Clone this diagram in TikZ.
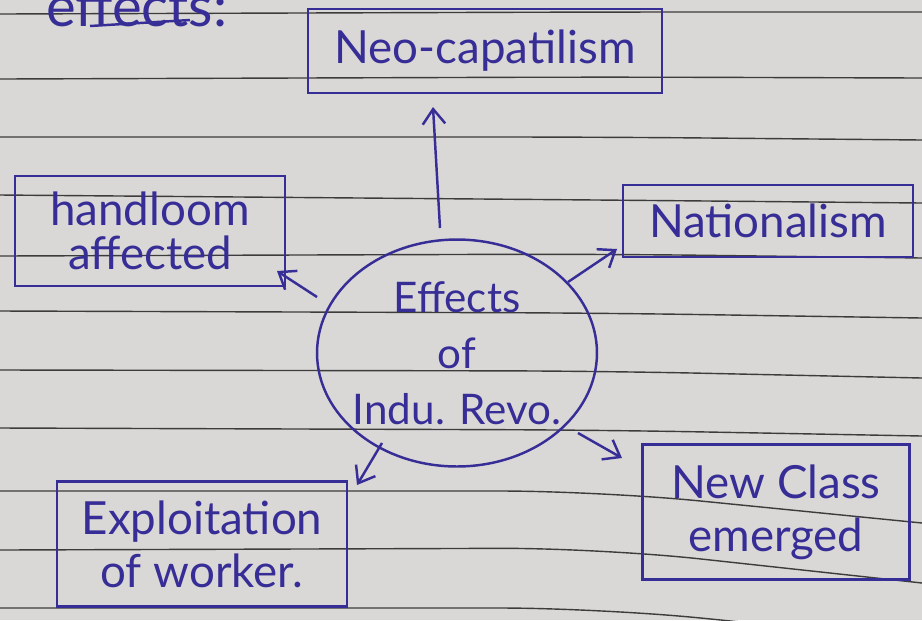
\documentclass[tikz,border=0pt]{standalone}
\usepackage{fontspec}
\setmainfont{Lato}
\usetikzlibrary{arrows.meta,shapes.geometric,calc}
\definecolor{ink}{RGB}{55,45,150}
\definecolor{paper}{RGB}{218,216,214}
\definecolor{rule}{RGB}{60,60,60}

\begin{document}
\begin{tikzpicture}[x=0.02cm, y=-0.02cm, >={Straight Barb[length=3mm,width=4.5mm]},
  box/.style={draw=ink, line width=1.4pt, text=ink, align=center, inner sep=0pt, font=\fontsize{26}{30}\selectfont},
  bubble/.style={draw=ink, ellipse, line width=1.4pt, text=ink, align=center, inner xsep=-0.3cm, inner ysep=-0.1cm, minimum width=5.6cm, minimum height=4.54cm, font=\fontsize{24}{32}\selectfont},
  link/.style={->, draw=ink, line width=1.4pt}]
\useasboundingbox (0,0) rectangle (922,620);
\fill[paper] (0,0) rectangle (922,620);
% ruled lines of the page
\foreach \a/\b/\c in {14/12/12, 79/77/78, 137/137/140, 195/200/203, 256/254/258, 311/313/318, 370/371/378, 428/430/436, 491/491/523, 550/548/583, 608/608/640}
  \draw[rule, line width=0.8pt, rounded corners=2cm] (0,\a) -- (600,\b) -- (922,\c);
% heading, cut by the top edge
\node[text=ink, font=\fontsize{32}{36}\selectfont, anchor=base west] (title) at (40,26) {effects:};
\draw[ink, line width=1.4pt] ($(title.base west)+(50,0)$) -- ($(title.base west)+(150,-6)$);
% centre and the five effects
\node[bubble] (eff) at (457,353) {Effects\\of\\Indu. Revo.};
\node[box, minimum width=7.08cm, minimum height=1.68cm] (neo) at (485,51) {Neo-capatilism};
\node[box, minimum width=5.4cm, minimum height=2.2cm, font=\fontsize{26}{25}\selectfont] (handloom) at (150,231) {handloom\\affected};
\node[box, minimum width=5.8cm, minimum height=1.44cm] (nation) at (768,221) {Nationalism};
\node[box, minimum width=5.8cm, minimum height=2.5cm] (exploit) at (202,544) {Exploitation\\of worker.};
\node[box, minimum width=5.34cm, minimum height=2.7cm] (newclass) at (776,512) {New Class\\emerged};
\foreach \sx/\sy/\tg/\ex/\ey in {-17/-125/neo/-52/56, -140/-56/handloom/127/40, 111/-71/nation/-151/28, -75/90/exploit/155/-59, 121/80/newclass/-154/-54}
  \draw[link] ($(eff)+(\sx,\sy)$) -- ($(\tg)+(\ex,\ey)$);
\end{tikzpicture}
\end{document}
